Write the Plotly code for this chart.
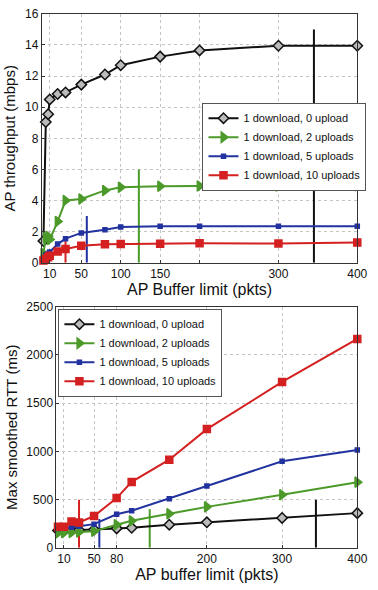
import plotly.graph_objects as go

# ---------------- data ----------------
names = ["1 download, 0 upload", "1 download, 2 uploads",
         "1 download, 5 uploads", "1 download, 10 uploads"]
colors = ["#111111", "#4c9a2a", "#2233a0", "#d42020"]

# top: throughput vs buffer
x_top = [2, 5, 8, 10, 20, 30, 50, 80, 100, 150, 200, 300, 400]
thr_0up = [1.4, 9.05, 9.55, 10.5, 10.85, 10.95, 11.45, 12.1, 12.7, 13.25, 13.65, 13.95, 13.95]
thr_2up = [0.6, 1.6, 1.7, 1.5, 2.65, 4.0, 4.1, 4.65, 4.85, 4.92, 4.93, 4.93, 4.95]
thr_5up = [0.3, 0.5, 0.6, 0.7, 1.2, 1.55, 1.92, 2.13, 2.3, 2.34, 2.35, 2.34, 2.35]
thr_10up = [0.15, 0.25, 0.35, 0.45, 0.73, 0.88, 1.09, 1.19, 1.2, 1.23, 1.26, 1.24, 1.3]
top_xticks = [10, 50, 100, 150, 200, 300, 400]
top_xticktext = ["10", "50", "100", "150", "", "300", "400"]
top_yticks = [0, 2, 4, 6, 8, 10, 12, 14, 16]
top_vline_x = [345, 123, 57, 30]
top_vline_h = [15, 6, 3, 1.5]

# bottom: RTT vs buffer
x_bot = [2, 10, 20, 30, 50, 80, 100, 150, 200, 300, 400]
rtt_0up = [180, 180, 183, 186, 190, 202, 208, 240, 265, 310, 360]
rtt_2up = [155, 158, 160, 165, 172, 240, 280, 354, 425, 550, 681]
rtt_5up = [200, 205, 213, 223, 246, 348, 385, 509, 641, 897, 1015]
rtt_10up = [220, 219, 273, 263, 330, 516, 684, 914, 1231, 1720, 2166]
bot_xticks = [10, 50, 80, 200, 300, 400]
bot_yticks = [0, 500, 1000, 1500, 2000, 2500]
bot_vline_x = [345, 124, 57, 30]
bot_vline_h = [500, 400, 300, 500]

symbols = ["diamond", "triangle-right", "square", "square"]
msizes = [8, 9, 4, 7]
mfill = ["#bbbbbb", colors[1], colors[2], colors[3]]

fig = go.Figure()

top_series = [thr_0up, thr_2up, thr_5up, thr_10up]
bot_series = [rtt_0up, rtt_2up, rtt_5up, rtt_10up]

# vertical marker lines (drawn first)
for i in range(4):
    fig.add_trace(go.Scatter(x=[top_vline_x[i], top_vline_x[i]], y=[0, top_vline_h[i]],
                             mode="lines", line=dict(color=colors[i], width=2),
                             showlegend=False, xaxis="x", yaxis="y", hoverinfo="skip"))
    fig.add_trace(go.Scatter(x=[bot_vline_x[i], bot_vline_x[i]], y=[0, bot_vline_h[i]],
                             mode="lines", line=dict(color=colors[i], width=2),
                             showlegend=False, xaxis="x2", yaxis="y2", hoverinfo="skip"))

for i in range(4):
    fig.add_trace(go.Scatter(
        x=x_top, y=top_series[i], name=names[i], mode="lines+markers",
        line=dict(color=colors[i], width=2),
        marker=dict(symbol=symbols[i], size=msizes[i], color=mfill[i],
                    line=dict(color=colors[i], width=1.5)),
        xaxis="x", yaxis="y", legend="legend", cliponaxis=False))
for i in range(4):
    fig.add_trace(go.Scatter(
        x=x_bot, y=bot_series[i], name=names[i], mode="lines+markers",
        line=dict(color=colors[i], width=2),
        marker=dict(symbol=symbols[i], size=msizes[i], color=mfill[i],
                    line=dict(color=colors[i], width=1.5)),
        xaxis="x2", yaxis="y2", legend="legend2", cliponaxis=False))

W, H = 378, 590
font_family = "Liberation Sans, Arial, sans-serif"
axis_common = dict(showline=True, linecolor="#333333", linewidth=1, mirror=True,
                   ticks="inside", ticklen=3, tickcolor="#333333",
                   showgrid=True, gridcolor="#c4c4c4", griddash="dot", gridwidth=1,
                   zeroline=False, tickfont=dict(size=12, color="#111111"))

fig.update_layout(
    width=W, height=H, margin=dict(l=0, r=0, t=0, b=0),
    paper_bgcolor="white", plot_bgcolor="white",
    font=dict(family=font_family, color="#111111"),
    xaxis=dict(domain=[43 / W, 367 / W], range=[0, 400], tickvals=top_xticks,
               ticktext=top_xticktext, anchor="y",
               title=dict(text="AP Buffer limit (pkts)", font=dict(size=16), standoff=0),
               **axis_common),
    yaxis=dict(domain=[1 - 262 / H, 1 - 7 / H], range=[0, 16], tickvals=top_yticks,
               anchor="x",
               title=dict(text="AP throughput (mbps)", font=dict(size=15), standoff=5),
               **axis_common),
    xaxis2=dict(domain=[58 / W, 367 / W], range=[0, 400], tickvals=bot_xticks,
                anchor="y2",
                title=dict(text="AP buffer limit (pkts)", font=dict(size=16), standoff=0),
                **axis_common),
    yaxis2=dict(domain=[1 - 554 / H, 1 - 307 / H], range=[0, 2500], tickvals=bot_yticks,
                anchor="x2",
                title=dict(text="Max smoothed RTT (ms)", font=dict(size=15), standoff=5),
                **axis_common),
    legend=dict(x=208 / W, y=1 - 98 / H, xanchor="left", yanchor="top",
                bgcolor="white", bordercolor="#555555", borderwidth=1,
                font=dict(size=11), itemwidth=30, tracegroupgap=0),
    legend2=dict(x=60 / W, y=1 - 309 / H, xanchor="left", yanchor="top",
                 bgcolor="white", bordercolor="#555555", borderwidth=1,
                 font=dict(size=11), itemwidth=30, tracegroupgap=0),
)

fig.write_html("out.html", config={"displayModeBar": False},
               post_script="document.body.style.margin='0px';")
